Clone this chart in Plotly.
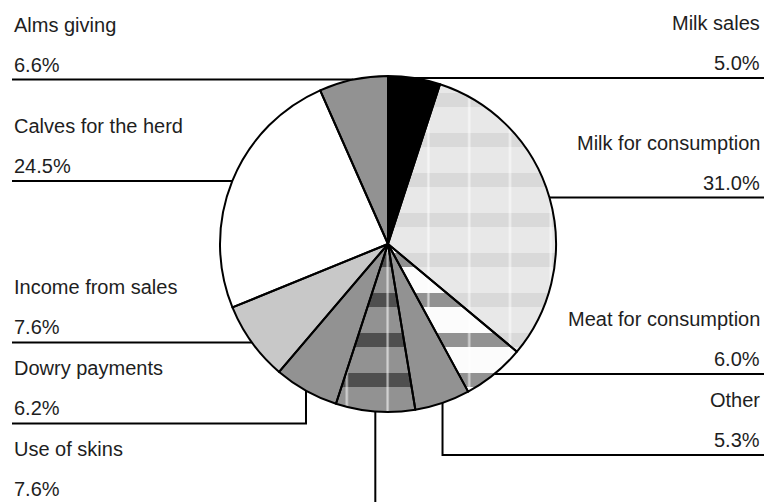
import math
import plotly.graph_objects as go

# ---- data ----
categories = ["Milk sales", "Milk for consumption", "Meat for consumption", "Other",
              "Use of skins", "Dowry payments", "Income from sales",
              "Calves for the herd", "Alms giving"]
shares = [5.0, 31.0, 6.0, 5.3, 7.6, 6.2, 7.6, 24.5, 6.6]
share_labels = ["5.0%", "31.0%", "6.0%", "5.3%", "7.6%", "6.2%", "7.6%", "24.5%", "6.6%"]

# ---- styles ----
base_colors = ["#000000", "#e8e8e8", "#fcfcfc", "#929292", "#929292", "#929292",
               "#c8c8c8", "#ffffff", "#929292"]
stripe_shape = ["", "-", "-", "", "-", "", "", "", ""]
stripe_color = ["#000000", "#d9d9d9", "#929292", "#929292", "#4f4f4f", "#929292",
                "#c8c8c8", "#ffffff", "#929292"]
vline_shape = ["", "|", "|", "", "|", "", "", "", ""]

W, H = 764, 502
CX, CY, R = 388, 244, 168          # pie centre / radius in pixels
FONT = "Arial, 'Liberation Sans', Helvetica, sans-serif"
TXT = "#1e1e1e"

def px(x):
    return x / W

def py(y):
    return 1 - y / H

domain = dict(x=[px(CX - R), px(CX + R)], y=[py(CY + R), py(CY - R)])

fig = go.Figure()
common = dict(labels=categories, values=shares, sort=False, direction="clockwise",
              rotation=0, domain=domain, textinfo="none", hoverinfo="label+percent",
              showlegend=False)
fig.add_trace(go.Pie(**common, marker=dict(
    colors=base_colors, line=dict(width=0),
    pattern=dict(shape=stripe_shape, fgcolor=stripe_color, bgcolor=base_colors,
                 size=40, solidity=14 / 40, fillmode="replace", fgopacity=1))))
fig.add_trace(go.Pie(**common, marker=dict(
    colors=["rgba(0,0,0,0)"] * len(shares), line=dict(width=0),
    pattern=dict(shape=vline_shape, fgcolor="#ffffff", bgcolor="rgba(0,0,0,0)",
                 size=40.8, solidity=2.2 / 40.8, fillmode="replace", fgopacity=0.6))))
fig.add_trace(go.Pie(**common, marker=dict(
    colors=["rgba(0,0,0,0)"] * len(shares), line=dict(color="#000000", width=2))))

# ---- leader lines and labels ----
total = sum(shares)
cum = 0.0
items = []
for name, v, lab in zip(categories, shares, share_labels):
    mid = (cum + v / 2) / total * 2 * math.pi
    cum += v
    ex = CX + R * math.sin(mid)
    ey = CY - R * math.cos(mid)
    items.append(dict(name=name, lab=lab, ex=ex, ey=ey, side="left" if ex < CX else "right"))

GAP = 81
shapes = []
annotations = []
for side in ("left", "right"):
    group = sorted([it for it in items if it["side"] == side], key=lambda d: d["ey"])
    prev = -1e9
    for it in group:
        ly = max(it["ey"], prev + GAP)
        prev = ly
        lx = 12 if side == "left" else W + 2
        if ly - it["ey"] > 1:
            path = f"M {px(it['ex'])},{py(it['ey'])} V {py(ly)} H {px(lx)}"
        else:
            path = f"M {px(it['ex'])},{py(ly)} H {px(lx)}"
        shapes.append(dict(type="path", path=path, xref="paper", yref="paper",
                           line=dict(color="#000000", width=2), layer="below"))
        tx = 12 if side == "left" else W - 2
        anchor = "left" if side == "left" else "right"
        for text, dy in ((it["name"], -55), (it["lab"], -15)):
            annotations.append(dict(text=text, x=px(tx), y=py(ly + dy), xref="paper",
                                    yref="paper", xanchor=anchor, yanchor="middle",
                                    showarrow=False,
                                    font=dict(family=FONT, size=20, color=TXT)))

fig.update_layout(width=W, height=H, margin=dict(l=0, r=0, t=0, b=0),
                  paper_bgcolor="#ffffff", plot_bgcolor="#ffffff",
                  shapes=shapes, annotations=annotations)
fig.write_html("out.html", config={"displayModeBar": False},
               post_script="document.body.style.margin='0';"
                           "document.documentElement.style.overflow='hidden';")
